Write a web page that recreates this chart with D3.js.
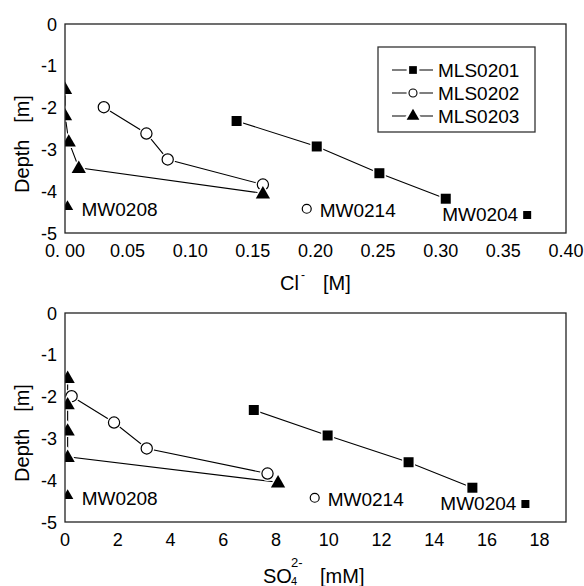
<!DOCTYPE html>
<html>
<head>
<meta charset="utf-8">
<script src="https://cdn.jsdelivr.net/npm/d3@7"></script>
<style>
  body { margin: 0; background: #fff; }
  svg { font-family: "Liberation Sans", Arial, sans-serif; }
  text { white-space: pre; }
</style>
</head>
<body>
<div class="chart"></div>
<script>
var w = 584,
  h = 586;

// depths [m]
var depth201 = [-2.32, -2.93, -3.57, -4.18],
  depth202 = [-1.99, -2.62, -3.24, -3.84],
  depth203 = [-1.55, -2.18, -2.81, -3.44, -4.05];

// chloride [M]
var cl201 = [0.137, 0.201, 0.251, 0.304],
  cl202 = [0.031, 0.065, 0.082, 0.158],
  cl203 = [0.0, 0.0, 0.003, 0.011, 0.158];

// sulfate [mM]
var so201 = [7.16, 9.96, 13.03, 15.45],
  so202 = [0.25, 1.86, 3.1, 7.68],
  so203 = [0.1, 0.1, 0.1, 0.1, 8.08];

// single monitoring wells
var wells = ['MW0208', 'MW0214', 'MW0204'],
  wellShape = ['triangle', 'circle', 'square'],
  wellDepth = [-4.35, -4.42, -4.57],
  wellCl = [0.002, 0.193, 0.369],
  wellSo = [0.1, 9.47, 17.46];

var seriesNames = ['MLS0201', 'MLS0202', 'MLS0203'],
  seriesShape = ['square', 'circle', 'triangle'];

var depthTicks = [0, -1, -2, -3, -4, -5],
  clTicks = [0, 0.05, 0.10, 0.15, 0.20, 0.25, 0.30, 0.35, 0.40],
  soTicks = [0, 2, 4, 6, 8, 10, 12, 14, 16, 18];

var svg = d3.select('.chart')
  .append('svg')
  .attr('width', w)
  .attr('height', h);

// draw one marker (with white halo so lines stop short of it)
function marker(g, shape, x, y, big) {
  var s = big ? 1 : 0.8;
  var path;
  if (shape === 'square') {
    path = d3.symbol().type(d3.symbolSquare).size(100 * s * s)();
  } else if (shape === 'triangle') {
    path = d3.symbol().type(d3.symbolTriangle).size(88 * s * s)();
  }
  var m = g.append('g').attr('transform', 'translate(' + x + ',' + y + ')');
  if (shape === 'circle') {
    m.append('circle').attr('r', 6 * s).attr('fill', '#fff')
      .attr('stroke', '#fff').attr('stroke-width', 3);
    m.append('circle').attr('r', 5.6 * s).attr('fill', '#fff')
      .attr('stroke', '#000').attr('stroke-width', 1.2);
  } else {
    m.append('path').attr('d', path).attr('fill', '#fff')
      .attr('stroke', '#fff').attr('stroke-width', 3)
      .attr('transform', shape === 'triangle' ? 'translate(0,1)' : null);
    m.append('path').attr('d', path).attr('fill', '#000')
      .attr('transform', shape === 'triangle' ? 'translate(0,1)' : null);
  }
}

function drawPanel(opt) {
  var x = d3.scaleLinear().domain(opt.xDomain).range([65, 566]);
  var y = d3.scaleLinear().domain([0, -5]).range([opt.top, opt.top + 209]);

  var g = svg.append('g');

  var clipId = 'clip' + opt.top;
  svg.append('clipPath').attr('id', clipId)
    .append('rect')
    .attr('x', x.range()[0]).attr('y', y.range()[0])
    .attr('width', x.range()[1] - x.range()[0])
    .attr('height', y.range()[1] - y.range()[0]);

  var plot = g.append('g').attr('clip-path', 'url(#' + clipId + ')');

  var line = d3.line()
    .x(function (d) { return x(d[0]); })
    .y(function (d) { return y(d[1]); });

  opt.series.forEach(function (s, i) {
    var pts = s.map(function (v, j) { return [v, opt.depths[i][j]]; });
    plot.append('path')
      .attr('d', line(pts))
      .attr('fill', 'none')
      .attr('stroke', '#000')
      .attr('stroke-width', 1.1);
  });
  opt.series.forEach(function (s, i) {
    s.forEach(function (v, j) {
      marker(plot, seriesShape[i], x(v), y(opt.depths[i][j]), true);
    });
  });

  // single wells with labels
  wells.forEach(function (name, i) {
    var px = x(opt.wellX[i]), py = y(wellDepth[i]);
    marker(plot, wellShape[i], px, py, false);
    var lab = g.append('text')
      .attr('font-size', 19)
      .text(name);
    if (i === 2) {
      lab.attr('x', px - 9).attr('y', py + 6).attr('text-anchor', 'end');
    } else if (i === 1) {
      lab.attr('x', px + 13).attr('y', py + 8);
    } else {
      lab.attr('x', px + 14).attr('y', py + 10);
    }
  });

  // frame
  g.append('rect')
    .attr('x', x.range()[0]).attr('y', y.range()[0])
    .attr('width', x.range()[1] - x.range()[0])
    .attr('height', y.range()[1] - y.range()[0])
    .attr('fill', 'none')
    .attr('stroke', '#222')
    .attr('stroke-width', 1.3);

  // y tick labels
  g.selectAll('text.ytick')
    .data(depthTicks)
    .enter()
    .append('text')
    .attr('class', 'ytick')
    .attr('x', 57)
    .attr('y', function (d) { return y(d) + 6.5; })
    .attr('text-anchor', 'end')
    .attr('font-size', 18)
    .text(function (d) { return String(d); });

  // x tick labels
  g.selectAll('text.xtick')
    .data(opt.xTicks)
    .enter()
    .append('text')
    .attr('class', 'xtick')
    .attr('x', function (d) { return x(d); })
    .attr('y', y.range()[1] + 24)
    .attr('text-anchor', 'middle')
    .attr('font-size', 18)
    .text(opt.xFormat);

  // y title
  g.append('text')
    .attr('transform', 'translate(29,' + (opt.top + 120) + ') rotate(-90)')
    .attr('text-anchor', 'middle')
    .attr('font-size', 20)
    .text('Depth   [m]');

  return { x: x, y: y, g: g };
}

// --- Cl panel ---
var top1 = drawPanel({
  top: 24,
  xDomain: [0, 0.4],
  xTicks: clTicks,
  xFormat: function (d) { return d === 0 ? '0. 00' : d3.format('.2f')(d); },
  series: [cl201, cl202, cl203],
  depths: [depth201, depth202, depth203],
  wellX: wellCl
});

var t1 = top1.g.append('text').attr('y', 290).attr('font-size', 20);
t1.append('tspan').attr('x', 280).text('Cl');
t1.append('tspan').attr('x', 301).attr('y', 279).attr('font-size', 12).text('-');
t1.append('tspan').attr('x', 323).attr('y', 290).text('[M]');

// legend
var leg = top1.g.append('g');
leg.append('rect')
  .attr('x', 378).attr('y', 47)
  .attr('width', 157).attr('height', 85)
  .attr('fill', '#fff')
  .attr('stroke', '#333')
  .attr('stroke-width', 1.3);
seriesNames.forEach(function (name, i) {
  var ly = 70 + i * 23;
  leg.append('line')
    .attr('x1', 392).attr('x2', 433)
    .attr('y1', ly).attr('y2', ly)
    .attr('stroke', '#000').attr('stroke-width', 1.1);
  var m = leg.append('g').attr('transform', 'translate(413,' + ly + ')');
  if (seriesShape[i] === 'circle') {
    m.append('circle').attr('r', 6.5).attr('fill', '#fff');
    m.append('circle').attr('r', 4).attr('fill', '#fff')
      .attr('stroke', '#000').attr('stroke-width', 1.1);
  } else {
    var sym = seriesShape[i] === 'square' ? d3.symbolSquare : d3.symbolTriangle;
    var size = seriesShape[i] === 'square' ? 60 : 70;
    var p = d3.symbol().type(sym).size(size)();
    m.append('path').attr('d', p).attr('fill', '#fff')
      .attr('stroke', '#fff').attr('stroke-width', 5);
    m.append('path').attr('d', p).attr('fill', '#000');
  }
  leg.append('text')
    .attr('x', 438).attr('y', ly + 7)
    .attr('font-size', 19)
    .text(name);
});

// --- SO4 panel ---
var bot = drawPanel({
  top: 313,
  xDomain: [0, 19],
  xTicks: soTicks,
  xFormat: function (d) { return String(d); },
  series: [so201, so202, so203],
  depths: [depth201, depth202, depth203],
  wellX: wellSo
});

var t2 = bot.g.append('text').attr('font-size', 20);
t2.append('tspan').attr('x', 263).attr('y', 583).text('SO');
t2.append('tspan').attr('x', 291).attr('y', 585).attr('font-size', 11).text('4');
t2.append('tspan').attr('x', 291).attr('y', 567).attr('font-size', 13).text('2-');
t2.append('tspan').attr('x', 320).attr('y', 583).text('[mM]');
</script>
</body>
</html>
